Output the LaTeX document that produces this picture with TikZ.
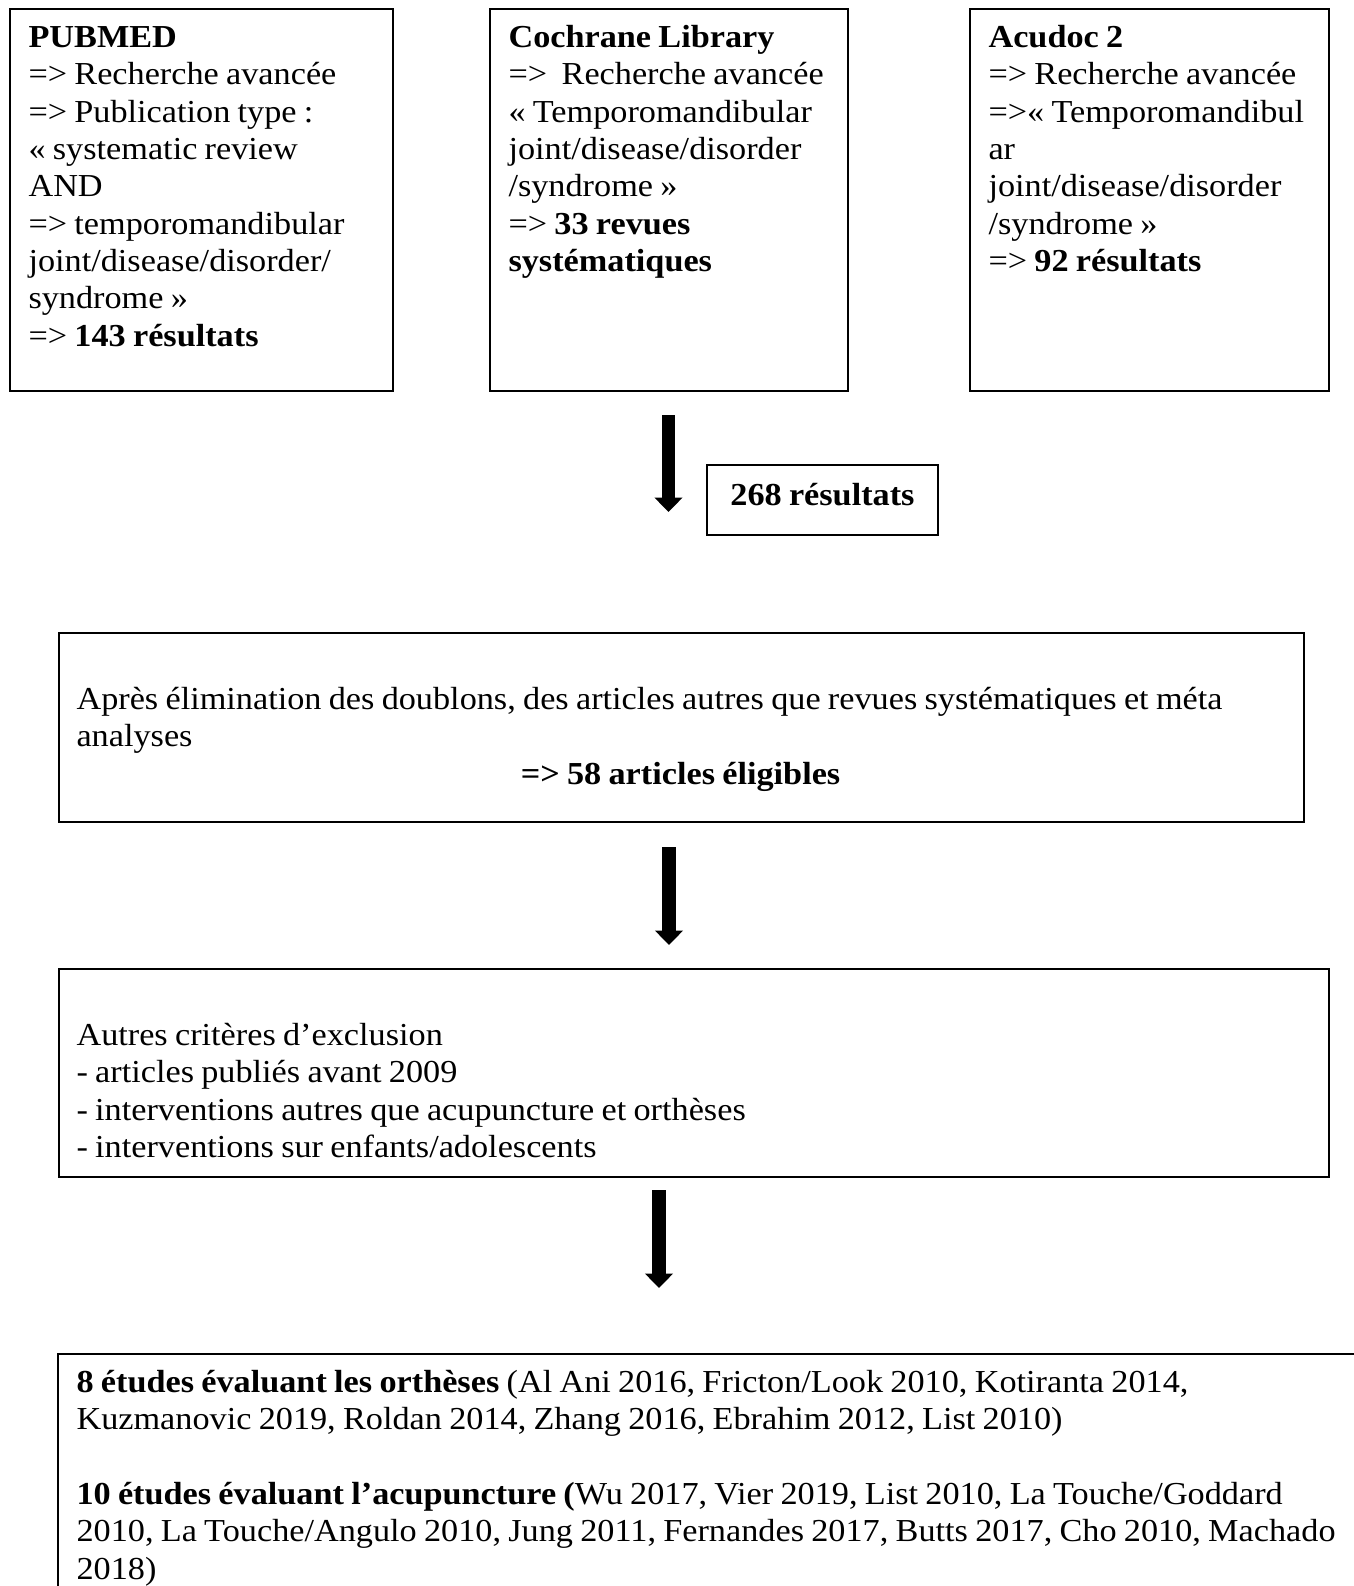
\documentclass[tikz,border=0pt]{standalone}
\usepackage{fontspec}
\setmainfont{Liberation Serif}[FakeStretch=1.07, WordSpace=0.85]
\usetikzlibrary{arrows.meta}

\begin{document}
\begin{tikzpicture}[x=0.375pt, y=-0.375pt,
	frame/.style={draw=black, line width=0.75pt, inner sep=0pt, anchor=north west},
	txt/.style={inner sep=0pt, anchor=north west, align=flush left, text width=#1, font=\fontsize{12}{14}\selectfont},
	bigarrow/.style={line width=4.9pt, -{Triangle[width=10.2pt, length=5.4pt]}}]

	\path[use as bounding box] (0,0) rectangle (1354,1586);
	\clip (0,0) rectangle (1354,1586);

	% sources
	\node[frame, minimum width=143.6pt, minimum height=143.3pt] (pubmed) at (9, 8) {};
	\node[frame, minimum width=134.3pt, minimum height=143.3pt] (cochrane) at (489, 8) {};
	\node[frame, minimum width=134.6pt, minimum height=143.3pt] (acudoc) at (969, 8) {};

	\node[txt=140pt] (pubmedtxt) at (28, 20.75) {\strut\textbf{PUBMED}\\
		=> Recherche avancée\\
		=> Publication type :\\
		« systematic review\\
		AND\\
		=> temporomandibular\\
		joint/disease/disorder/\\
		syndrome »\\
		=> \textbf{143 résultats}};
	\node[txt=140pt] (cochranetxt) at (508, 20.75) {\strut\textbf{Cochrane Library}\\
		=>~~Recherche avancée\\
		« Temporomandibular\\
		joint/disease/disorder\\
		/syndrome »\\
		=> \textbf{33 revues}\\
		\textbf{systématiques}};
	\node[txt=140pt] (acudoctxt) at (988, 20.75) {\strut\textbf{Acudoc 2}\\
		=> Recherche avancée\\
		=>« Temporomandibul\\
		ar\\
		joint/disease/disorder\\
		/syndrome »\\
		=> \textbf{92 résultats}};

	% total
	\node[frame, minimum width=86.6pt, minimum height=26.3pt, text height=8.5pt, text depth=4.5pt,
		font=\fontsize{12}{14}\selectfont\bfseries] (total) at (706, 464) {268 résultats};

	% selection
	\node[frame, minimum width=466.9pt, minimum height=70.9pt] (doublons) at (58, 632) {};
	\node[txt=480pt] (doublonstxt) at (76, 682.75) {\strut Après élimination des doublons, des articles autres que revues systématiques et méta\\
		analyses\\
		\makebox[453pt][c]{\textbf{=> 58 articles éligibles}}};

	\node[frame, minimum width=476.3pt, minimum height=78pt] (exclusion) at (58, 968) {};
	\node[txt=470pt] (exclusiontxt) at (76, 1018.75) {\strut Autres critères d’exclusion\\
		- articles publiés avant 2009\\
		- interventions autres que acupuncture et orthèses\\
		- interventions sur enfants/adolescents};

	\node[frame, minimum width=525pt, minimum height=112.5pt] (etudes) at (57, 1353) {};
	\node[txt=520pt] (etudestxt) at (76, 1365.75) {\strut\textbf{8 études évaluant les orthèses} (Al Ani 2016, Fricton/Look 2010, Kotiranta 2014,\\
		Kuzmanovic 2019, Roldan 2014, Zhang 2016, Ebrahim 2012, List 2010)\\
		\mbox{}\\
		\textbf{10 études évaluant l’acupuncture (}Wu 2017, Vier 2019, List 2010, La Touche/Goddard\\
		2010, La Touche/Angulo 2010, Jung 2011, Fernandes 2017, Butts 2017, Cho 2010, Machado\\
		2018)};

	% arrows
	\coordinate (a1s) at (668.5, 415);
	\coordinate (a1e) at (668.5, 512);
	\coordinate (a2s) at (669, 847);
	\coordinate (a2e) at (669, 945);
	\coordinate (a3s) at (659, 1190);
	\coordinate (a3e) at (659, 1288);

	\draw[bigarrow] (a1s) -- (a1e);
	\draw[bigarrow] (a2s) -- (a2e);
	\draw[bigarrow] (a3s) -- (a3e);

\end{tikzpicture}
\end{document}
